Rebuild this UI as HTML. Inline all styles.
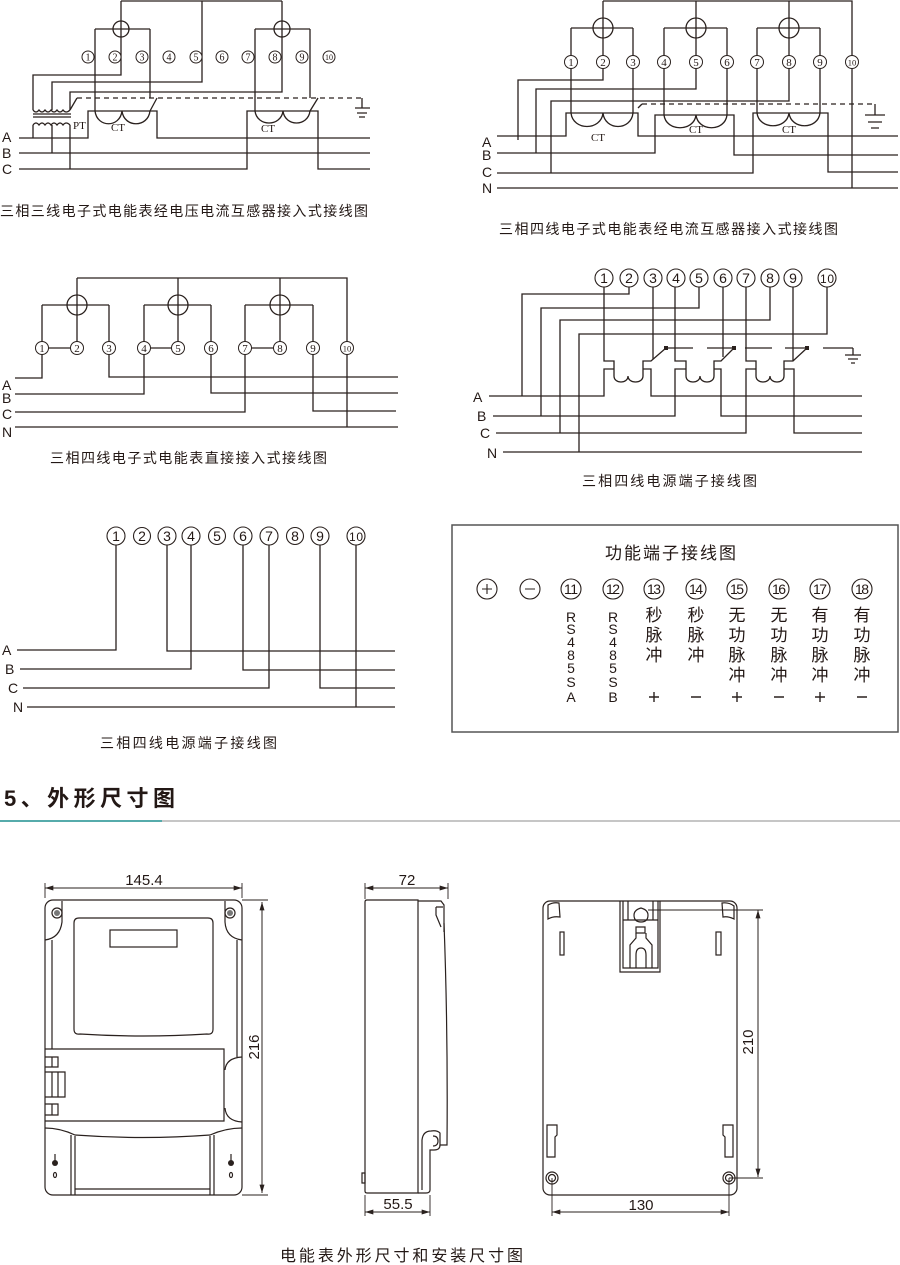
<!DOCTYPE html>
<html><head><meta charset="utf-8">
<style>
html,body{margin:0;padding:0;background:#fff;}
svg{display:block}
text{font-family:"Liberation Sans","Noto Sans CJK SC",sans-serif;fill:#231815}
.s{font-family:"Liberation Serif","Noto Serif CJK SC",serif}
</style></head><body>
<svg width="900" height="1265" viewBox="0 0 900 1265" xmlns="http://www.w3.org/2000/svg">
<defs>
<marker id="a" viewBox="0 0 10 6" refX="10" refY="3" markerWidth="9" markerHeight="5" orient="auto-start-reverse" markerUnits="userSpaceOnUse"><path d="M0,0L10,3L0,6z" fill="#2a211e"/></marker>
</defs>

<!-- ============ Diagram 1 ============ -->
<g fill="none" stroke="#2a211e" stroke-width="1.3">
<path d="M121,1H282M121,1V75H33V110M202,1V82H52V110M282,1V92H70V110"/>
<circle cx="121" cy="29" r="8"/><circle cx="282" cy="29" r="8"/>
<path d="M95,29H150M95,29V111M150,29V98"/>
<path d="M255,29H310M255,29V111M310,29V98"/>
<path d="M19,138H88V111H157V138H370"/>
<path d="M95,111C97,128 120,128 122,111C124,128 148,128 150,111M150,111L157,98"/>
<path d="M19,153H370"/>
<path d="M19,169H247V111H318V169H370"/>
<path d="M255,111C257,127 281,127 283,111C285,127 308,127 310,111M310,111L318,98"/>
<path d="M77,98H362" stroke-dasharray="5,4"/>
<path d="M70,110L77,98"/>
<path d="M362,98V108M355,108H370M357,113H367M359,117H365"/>
<path d="M33,110q3,4 6,0q3,4 6,0q3,4 6,0q3,4 6,0q3,4 6,0q3,4 7,0"/>
<path d="M33,114H71M33,117H71"/>
<path d="M33,125q3,-4 6,0q3,-4 6,0q3,-4 6,0q3,-4 6,0q3,-4 6,0q3,-4 7,0"/>
<path d="M33,125V138M52,125V153M70,125V169"/>
</g>
<g fill="#fff" stroke="#2a211e" stroke-width="1">
<circle cx="88" cy="57" r="6"/><circle cx="115" cy="57" r="6"/><circle cx="142" cy="57" r="6"/><circle cx="169" cy="57" r="6"/><circle cx="196" cy="57" r="6"/><circle cx="222" cy="57" r="6"/><circle cx="248" cy="57" r="6"/><circle cx="275" cy="57" r="6"/><circle cx="302" cy="57" r="6"/><circle cx="329" cy="57" r="6"/>
</g>
<g text-anchor="middle">
<text class="s" x="88" y="60.5" font-size="10">1</text><text class="s" x="115" y="60.5" font-size="10">2</text><text class="s" x="142" y="60.5" font-size="10">3</text><text class="s" x="169" y="60.5" font-size="10">4</text><text class="s" x="196" y="60.5" font-size="10">5</text><text class="s" x="222" y="60.5" font-size="10">6</text><text class="s" x="248" y="60.5" font-size="10">7</text><text class="s" x="275" y="60.5" font-size="10">8</text><text class="s" x="302" y="60.5" font-size="10">9</text><text class="s" x="329" y="60" font-size="8">10</text>
</g>
<text class="s" x="73" y="129" font-size="11">PT</text>
<text class="s" x="118" y="131" font-size="11" text-anchor="middle">CT</text>
<text class="s" x="268" y="132" font-size="11" text-anchor="middle">CT</text>
<text x="2" y="142" font-size="14">A</text>
<text x="2" y="158" font-size="14">B</text>
<text x="2" y="174" font-size="14">C</text>
<text x="0" y="216" font-size="14" textLength="368">三相三线电子式电能表经电压电流互感器接入式接线图</text>

<!-- ============ Diagram 2 ============ -->
<g fill="none" stroke="#2a211e" stroke-width="1.3">
<path d="M603,1H852V188M603,1V80H518V140M696,1V89H536V153M789,1V101H551V173"/>
<circle cx="603" cy="28" r="10"/><circle cx="696" cy="28" r="10"/><circle cx="789" cy="28" r="10"/>
<path d="M571,28H633M664,28H727M757,28H820"/>
<path d="M571,28V113M633,28V113M664,28V115M727,28V115M757,28V113M820,28V113"/>
<path d="M497,136H566V113H638V136H898"/>
<path d="M571,113C573,131 601,131 603,113C605,131 631,131 633,113"/>
<path d="M497,153H655V115H734V155H898"/>
<path d="M664,115C666,132 694,132 696,115C698,132 725,132 727,115"/>
<path d="M497,173H753V113H828V172H898"/>
<path d="M757,113C759,130 787,130 789,113C791,130 818,130 820,113"/>
<path d="M497,188H898"/>
<path d="M642,104H875" stroke-dasharray="5,4"/>
<path d="M638,108L642,104"/>
<path d="M875,104V115M865,115H885M868,122H882M871,128H879"/>
</g>
<g fill="#fff" stroke="#2a211e" stroke-width="1">
<circle cx="571" cy="62" r="6.5"/><circle cx="603" cy="62" r="6.5"/><circle cx="633" cy="62" r="6.5"/><circle cx="664" cy="62" r="6.5"/><circle cx="696" cy="62" r="6.5"/><circle cx="727" cy="62" r="6.5"/><circle cx="757" cy="62" r="6.5"/><circle cx="789" cy="62" r="6.5"/><circle cx="820" cy="62" r="6.5"/><circle cx="852" cy="62" r="6.5"/>
</g>
<g text-anchor="middle">
<text class="s" x="571" y="66" font-size="11">1</text><text class="s" x="603" y="66" font-size="11">2</text><text class="s" x="633" y="66" font-size="11">3</text><text class="s" x="664" y="66" font-size="11">4</text><text class="s" x="696" y="66" font-size="11">5</text><text class="s" x="727" y="66" font-size="11">6</text><text class="s" x="757" y="66" font-size="11">7</text><text class="s" x="789" y="66" font-size="11">8</text><text class="s" x="820" y="66" font-size="11">9</text><text class="s" x="852" y="65.5" font-size="8.5">10</text>
<text class="s" x="598" y="141" font-size="11">CT</text>
<text class="s" x="696" y="133" font-size="11">CT</text>
<text class="s" x="789" y="133" font-size="11">CT</text>
</g>
<text x="482" y="147" font-size="14">A</text>
<text x="482" y="160" font-size="14">B</text>
<text x="482" y="177" font-size="14">C</text>
<text x="482" y="193" font-size="14">N</text>
<text x="499" y="234" font-size="14" textLength="339">三相四线电子式电能表经电流互感器接入式接线图</text>

<!-- ============ Diagram 3 ============ -->
<g fill="none" stroke="#2a211e" stroke-width="1.3">
<path d="M77,278H347V427M77,278V348M178,278V348M280,278V348"/>
<circle cx="77" cy="305" r="10"/><circle cx="178" cy="305" r="10"/><circle cx="280" cy="305" r="10"/>
<path d="M42,305H109M144,305H211M245,305H313"/>
<path d="M42,305V378H15M109,305V377H398M144,305V394H15M211,305V393H398M245,305V412H15M313,305V411H396"/>
<path d="M42,348H77M144,348H178M245,348H280"/>
<path d="M15,427H398"/>
</g>
<g fill="#fff" stroke="#2a211e" stroke-width="1">
<circle cx="42" cy="348" r="6.5"/><circle cx="77" cy="348" r="6.5"/><circle cx="109" cy="348" r="6.5"/><circle cx="144" cy="348" r="6.5"/><circle cx="178" cy="348" r="6.5"/><circle cx="211" cy="348" r="6.5"/><circle cx="245" cy="348" r="6.5"/><circle cx="280" cy="348" r="6.5"/><circle cx="313" cy="348" r="6.5"/><circle cx="347" cy="348" r="6.5"/>
</g>
<g text-anchor="middle">
<text class="s" x="42" y="352" font-size="11">1</text><text class="s" x="77" y="352" font-size="11">2</text><text class="s" x="109" y="352" font-size="11">3</text><text class="s" x="144" y="352" font-size="11">4</text><text class="s" x="178" y="352" font-size="11">5</text><text class="s" x="211" y="352" font-size="11">6</text><text class="s" x="245" y="352" font-size="11">7</text><text class="s" x="280" y="352" font-size="11">8</text><text class="s" x="313" y="352" font-size="11">9</text><text class="s" x="347" y="351.5" font-size="8.5">10</text>
</g>
<text x="2" y="390" font-size="14">A</text>
<text x="2" y="403" font-size="14">B</text>
<text x="2" y="419" font-size="14">C</text>
<text x="2" y="437" font-size="14">N</text>
<text x="50" y="463" font-size="14" textLength="277">三相四线电子式电能表直接接入式接线图</text>

<!-- ============ Diagram 4 ============ -->
<g fill="none" stroke="#2a211e" stroke-width="1.3">
<path d="M629,287V294H522V396M699,287V308H541V416M770,287V320H560V433M827,287V334H579V452"/>
<path d="M604,287V361H614V376C614,384 628,384 628,376C628,384 643,384 643,376V361H651L666,348M653,287V359"/>
<path d="M489,396H604V369H614M643,369H651V396H862"/>
<path d="M675,287V361H686V376C686,384 700,384 700,376C700,384 714,384 714,376V361H721L734,348M723,287V357"/>
<path d="M493,416H675V369H686M714,369H721V416H862"/>
<path d="M746,287V361H756V376C756,384 770,384 770,376C770,384 784,384 784,376V361H793L807,348M793,287V361"/>
<path d="M496,433H746V369H756M784,369H794V433H862"/>
<path d="M503,452H862"/>
<path d="M667,348H693M707,348H734M745,348H772M785,348H807M823,348H853"/>
<path d="M853,348V355M845,355H861M848,359H858M851,363H855"/>
</g>
<g fill="#2a211e"><rect x="664" y="346" width="4" height="4"/><rect x="732" y="346" width="4" height="4"/><rect x="805" y="346" width="4" height="4"/></g>
<g fill="#fff" stroke="#2a211e" stroke-width="1.1">
<circle cx="604" cy="278" r="9"/><circle cx="629" cy="278" r="9"/><circle cx="653" cy="278" r="9"/><circle cx="676" cy="278" r="9"/><circle cx="699" cy="278" r="9"/><circle cx="723" cy="278" r="9"/><circle cx="746" cy="278" r="9"/><circle cx="770" cy="278" r="9"/><circle cx="793" cy="278" r="9"/><circle cx="827" cy="278" r="9"/>
</g>
<g text-anchor="middle" font-size="14">
<text x="604" y="283">1</text><text x="629" y="283">2</text><text x="653" y="283">3</text><text x="676" y="283">4</text><text x="699" y="283">5</text><text x="723" y="283">6</text><text x="746" y="283">7</text><text x="770" y="283">8</text><text x="793" y="283">9</text><text x="827" y="283" font-size="12" textLength="14">10</text>
</g>
<text x="473" y="402" font-size="14">A</text>
<text x="477" y="421" font-size="14">B</text>
<text x="480" y="438" font-size="14">C</text>
<text x="487" y="458" font-size="14">N</text>
<text x="582" y="486" font-size="14" textLength="175">三相四线电源端子接线图</text>

<!-- ============ Diagram 5 ============ -->
<g fill="none" stroke="#2a211e" stroke-width="1.3">
<path d="M116,545V650H17M167,545V651H395M191,545V669H20M243,545V670H395M269,545V688H23M320,545V688H395M356,545V707M27,707H395"/>
</g>
<g fill="#fff" stroke="#2a211e" stroke-width="1.1">
<circle cx="116" cy="536" r="9"/><circle cx="142" cy="536" r="8.5"/><circle cx="167" cy="536" r="9"/><circle cx="191" cy="536" r="9"/><circle cx="217" cy="536" r="8.5"/><circle cx="243" cy="536" r="9"/><circle cx="269" cy="536" r="9"/><circle cx="295" cy="536" r="8.5"/><circle cx="320" cy="536" r="9"/><circle cx="356" cy="536" r="9"/>
</g>
<g text-anchor="middle" font-size="14">
<text x="116" y="541">1</text><text x="142" y="541">2</text><text x="167" y="541">3</text><text x="191" y="541">4</text><text x="217" y="541">5</text><text x="243" y="541">6</text><text x="269" y="541">7</text><text x="295" y="541">8</text><text x="320" y="541">9</text><text x="356" y="541" font-size="12" textLength="14">10</text>
</g>
<text x="2" y="655" font-size="14">A</text>
<text x="5" y="674" font-size="14">B</text>
<text x="8" y="693" font-size="14">C</text>
<text x="13" y="712" font-size="14">N</text>
<text x="100" y="748" font-size="14" textLength="177">三相四线电源端子接线图</text>

<!-- ============ Function terminal box ============ -->
<rect x="452" y="525" width="446" height="207" fill="none" stroke="#555" stroke-width="1.5"/>
<text x="605" y="559" font-size="17" textLength="131">功能端子接线图</text>
<g fill="none" stroke="#2a211e" stroke-width="1.1">
<circle cx="487" cy="589" r="10"/><circle cx="530" cy="589" r="10"/><circle cx="571" cy="589" r="10"/><circle cx="613" cy="589" r="10"/><circle cx="654" cy="589" r="10"/><circle cx="696" cy="589" r="10"/><circle cx="737" cy="589" r="10"/><circle cx="779" cy="589" r="10"/><circle cx="820" cy="589" r="10"/><circle cx="862" cy="589" r="10"/>
<path d="M482,589H492M487,584V594M525,589H535"/>
</g>
<g text-anchor="middle" font-size="14">
<text x="571" y="594" textLength="14">11</text><text x="613" y="594" textLength="14">12</text><text x="654" y="594" textLength="14">13</text><text x="696" y="594" textLength="14">14</text><text x="737" y="594" textLength="14">15</text><text x="779" y="594" textLength="14">16</text><text x="820" y="594" textLength="14">17</text><text x="862" y="594" textLength="14">18</text>
</g>
<g text-anchor="middle" font-size="14">
<text x="571" y="622">R</text><text x="571" y="634">S</text><text x="571" y="647">4</text><text x="571" y="660">8</text><text x="571" y="673">5</text><text x="571" y="687">S</text><text x="571" y="702">A</text>
<text x="613" y="622">R</text><text x="613" y="634">S</text><text x="613" y="647">4</text><text x="613" y="660">8</text><text x="613" y="673">5</text><text x="613" y="687">S</text><text x="613" y="702">B</text>
</g>
<g text-anchor="middle" font-size="17">
<text x="654" y="621">秒</text><text x="654" y="641">脉</text><text x="654" y="661">冲</text>
<text x="696" y="621">秒</text><text x="696" y="641">脉</text><text x="696" y="661">冲</text>
<text x="737" y="621">无</text><text x="737" y="641">功</text><text x="737" y="661">脉</text><text x="737" y="681">冲</text>
<text x="779" y="621">无</text><text x="779" y="641">功</text><text x="779" y="661">脉</text><text x="779" y="681">冲</text>
<text x="820" y="621">有</text><text x="820" y="641">功</text><text x="820" y="661">脉</text><text x="820" y="681">冲</text>
<text x="862" y="621">有</text><text x="862" y="641">功</text><text x="862" y="661">脉</text><text x="862" y="681">冲</text>
</g>
<g fill="none" stroke="#2a211e" stroke-width="1.4">
<path d="M649,697H659M654,692V702M691,697H701M732,697H742M737,692V702M774,697H784M815,697H825M820,692V702M857,697H867"/>
</g>

<!-- ============ Section title ============ -->
<text x="4" y="806" font-size="22" font-weight="bold" textLength="171">5、外形尺寸图</text>
<path d="M0,821H162" stroke="#1f8f8f" stroke-width="1.6"/>
<path d="M162,821H900" stroke="#a3a3a3" stroke-width="1.2"/>

<!-- ============ Front view ============ -->
<g fill="none" stroke="#2a211e" stroke-width="1.2">
<path d="M45,888H242" marker-start="url(#a)" marker-end="url(#a)" stroke-width="1"/>
<path d="M45,883V898M242,883V898" stroke-width="0.9"/>
<rect x="45" y="900" width="197" height="295" rx="8"/>
<path d="M45,940Q60,938 62,922V901M242,940Q226,938 225,922V901"/>
<circle cx="57" cy="913" r="5"/><circle cx="230" cy="913" r="5"/>
<path d="M52,940V1049M237,940V1057"/>
<path d="M79,918H208Q213,918 213,923V1029Q213,1035 207,1034Q143,1038 80,1034Q74,1035 74,1029V923Q74,918 79,918Z"/>
<rect x="110" y="930" width="67" height="17"/>
<path d="M45,1049H224V1121H45"/>
<path d="M242,1057Q226,1058 225,1070M225,1108Q226,1121 242,1122"/>
<path d="M45,1057H58V1067H45M52,1057V1067"/>
<path d="M45,1072H65V1097H45M52,1072V1097M58,1072V1097"/>
<path d="M45,1104H58V1115H45M52,1104V1115"/>
<path d="M45,1128Q60,1128 75,1135Q143,1140 210,1135Q226,1128 242,1128"/>
<path d="M71,1135V1195M75,1136V1195M210,1136V1195M214,1135V1195M75,1189H210"/>
<path d="M55,1154V1162M231,1154V1162"/>
<ellipse cx="55" cy="1175" rx="1.5" ry="2.5"/><ellipse cx="231" cy="1175" rx="1.5" ry="2.5"/>
<path d="M262,902V1193" marker-start="url(#a)" marker-end="url(#a)" stroke-width="1"/>
<path d="M242,900H268M242,1195H268" stroke-width="0.9"/>
</g>
<g fill="#777"><circle cx="57" cy="913" r="3"/><circle cx="230" cy="913" r="3"/></g>
<g fill="#2a211e"><circle cx="55" cy="1163" r="3"/><circle cx="231" cy="1163" r="3"/></g>
<text x="144" y="885" font-size="15" text-anchor="middle">145.4</text>
<text x="0" y="0" font-size="15" text-anchor="middle" transform="translate(259,1047) rotate(-90)">216</text>

<!-- ============ Side view ============ -->
<g fill="none" stroke="#2a211e" stroke-width="1.2">
<path d="M365,888H448" marker-start="url(#a)" marker-end="url(#a)" stroke-width="1"/>
<path d="M365,883V899M448,883V899" stroke-width="0.9"/>
<path d="M367,900H418V1193H367Q365,1193 365,1191V902Q365,900 367,900Z"/>
<path d="M418,901H441L444,905V932"/>
<path d="M436,907H443M436,907V915L441,927"/>
<path d="M444,923Q448,1030 447,1145H440V1133Q437,1130 431,1131Q423,1131 422,1140V1190"/>
<path d="M440,1145Q440,1150 434,1150H430V1190Q430,1193 426,1193H418"/>
<path d="M433,1136Q438,1136 438,1141Q438,1146 433,1146"/>
<path d="M362,1173H365V1183H362Z"/>
<path d="M365,1212H430" marker-start="url(#a)" marker-end="url(#a)" stroke-width="1"/>
<path d="M365,1195V1216M430,1195V1216" stroke-width="0.9"/>
</g>
<text x="407" y="885" font-size="15" text-anchor="middle">72</text>
<text x="398" y="1209" font-size="15" text-anchor="middle">55.5</text>

<!-- ============ Back view ============ -->
<g fill="none" stroke="#2a211e" stroke-width="1.2">
<rect x="543" y="901" width="194" height="294" rx="7"/>
<path d="M548,905Q553,902 559,903L560,917Q553,916 548,919Z"/>
<path d="M722,903Q729,902 734,906V919Q728,916 723,917Z"/>
<rect x="560" y="932" width="4" height="23"/>
<rect x="716" y="932" width="5" height="23"/>
<path d="M547,1125H557V1135L555,1137V1157H547Z"/>
<path d="M723,1125H733V1157H725V1137L723,1135Z"/>
<circle cx="552" cy="1178" r="6"/><circle cx="552" cy="1178" r="3.5"/>
<circle cx="729" cy="1178" r="6"/><circle cx="729" cy="1178" r="3.5"/>
<path d="M620,901V972H660V901M623,901V968H658V901"/>
<path d="M628,901V920M653,901V920M623,920H658"/>
<path d="M641,908Q648,910 648,915Q648,922 641,922Q634,922 634,915Q634,910 641,908Z"/>
<path d="M636,927H645V933H636Z"/>
<path d="M630,968V945L636,938V933M646,933V938L652,945V968"/>
<path d="M636,968V955Q636,948 641,948Q646,948 646,955V968"/>
<path d="M758,910V1177" marker-start="url(#a)" marker-end="url(#a)" stroke-width="1"/>
<path d="M648,910H763M729,1178H763" stroke-width="0.9"/>
<path d="M552,1212H729" marker-start="url(#a)" marker-end="url(#a)" stroke-width="1"/>
<path d="M552,1178V1216M729,1178V1216" stroke-width="0.9"/>
</g>
<text x="0" y="0" font-size="15" text-anchor="middle" transform="translate(753,1042) rotate(-90)">210</text>
<text x="641" y="1210" font-size="15" text-anchor="middle">130</text>

<text x="280" y="1261" font-size="16" textLength="243">电能表外形尺寸和安装尺寸图</text>
</svg>
</body></html>
